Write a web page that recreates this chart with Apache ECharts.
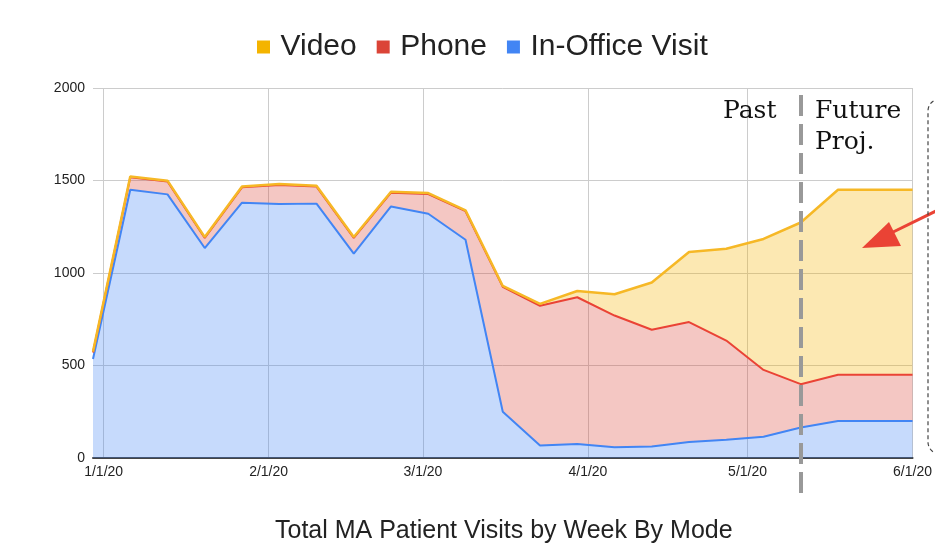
<!DOCTYPE html>
<html>
<head>
<meta charset="utf-8">
<title>Total MA Patient Visits by Week By Mode</title>
<script src="https://cdn.jsdelivr.net/npm/echarts@6.0.0/dist/echarts.min.js"></script>
<style>
    html, body { margin: 0; padding: 0; background: #fff; }
    #chart { width: 935px; height: 551px; }
</style>
</head>
<body>
<div id="chart"></div>
<script>
'use strict'

// weekly points (Monday of each week)
const weeks = ['2019-12-30', '2020-01-06', '2020-01-13', '2020-01-20', '2020-01-27',
    '2020-02-03', '2020-02-10', '2020-02-17', '2020-02-24', '2020-03-02', '2020-03-09',
    '2020-03-16', '2020-03-23', '2020-03-30', '2020-04-06', '2020-04-13', '2020-04-20',
    '2020-04-27', '2020-05-04', '2020-05-11', '2020-05-18', '2020-05-25', '2020-06-01']

const inOffice = [535, 1450, 1425, 1135, 1380, 1373, 1375, 1105, 1360, 1320, 1180,
    250, 68, 76, 58, 62, 87, 98, 115, 165, 200, 200, 200]
const phone = [35, 67, 70, 55, 83, 103, 92, 85, 74, 107, 154,
    675, 755, 793, 712, 631, 648, 537, 361, 234, 250, 250, 250]
const video = [5, 5, 4, 4, 4, 5, 5, 5, 5, 5, 5,
    5, 10, 34, 115, 256, 379, 496, 708, 874, 1000, 1000, 1000]

const monthTicks = ['2020-01-01', '2020-02-01', '2020-03-01', '2020-04-01', '2020-05-01', '2020-06-01']
const splitWeek = '2020-05-11'

const ts = (s) => {
    let p = s.split('-').map(Number)
    return Date.UTC(p[0], p[1] - 1, p[2])
}
const pairs = (vals) => weeks.map((w, i) => [ts(w), vals[i]])

const sans = '"Liberation Sans", Arial, sans-serif'
const squareIcon = 'path://M0,0H10V10H0Z'
const xMin = ts(weeks[0])
const xMax = ts(weeks[weeks.length - 1])

let chart = echarts.init(document.getElementById('chart'))

const option = {
    animation: false,
    useUTC: true,
    textStyle: { fontFamily: sans },
    color: ['#4285f4', '#db4437', '#f4b400'],
    title: {
        text: 'Total MA Patient Visits by Week By Mode',
        left: 270,
        top: 514,
        textStyle: {
            fontFamily: sans,
            fontSize: 25,
            fontWeight: 'normal',
            color: '#222'
        }
    },
    legend: {
        left: 252,
        top: 27,
        selectedMode: false,
        itemWidth: 24,
        itemHeight: 13,
        itemGap: 20,
        icon: squareIcon,
        data: ['Video', 'Phone', 'In-Office Visit'],
        textStyle: { fontSize: 30, color: '#222', fontFamily: sans }
    },
    grid: {
        left: 93,
        right: 20,
        top: 88,
        bottom: 93,
        containLabel: false
    },
    xAxis: [{
        // time axis that carries the series (kept hidden)
        type: 'time',
        min: xMin,
        max: xMax,
        show: false
    }, {
        // month labels and grid lines on the same span
        type: 'value',
        min: xMin,
        max: xMax,
        position: 'bottom',
        axisLine: { show: true, lineStyle: { color: '#444', width: 2 } },
        axisTick: { show: false, customValues: monthTicks.map(ts) },
        axisLabel: {
            customValues: monthTicks.map(ts),
            color: '#222',
            fontSize: 14,
            margin: 7,
            formatter: function (val) {
                let d = new Date(val)
                return (d.getUTCMonth() + 1) + '/' + d.getUTCDate() + '/20'
            }
        },
        splitLine: { show: true, lineStyle: { color: '#cccccc', width: 1 } }
    }],
    yAxis: {
        type: 'value',
        min: 0,
        max: 2000,
        interval: 500,
        axisLine: { show: false },
        axisTick: { show: false },
        axisLabel: {
            color: '#222',
            fontSize: 14,
            margin: 8,
            formatter: function (val) {
                return String(val)
            }
        },
        splitLine: { show: true, lineStyle: { color: '#cccccc', width: 1 } }
    },
    series: [{
        name: 'In-Office Visit',
        type: 'line',
        stack: 'total',
        xAxisIndex: 0,
        showSymbol: false,
        lineStyle: { width: 2, color: '#4285f4' },
        areaStyle: { color: '#4285f4', opacity: 0.3 },
        data: pairs(inOffice)
    }, {
        name: 'Phone',
        type: 'line',
        stack: 'total',
        xAxisIndex: 0,
        showSymbol: false,
        lineStyle: { width: 2, color: '#ea4335' },
        areaStyle: { color: '#db4437', opacity: 0.3 },
        data: pairs(phone)
    }, {
        name: 'Video',
        type: 'line',
        stack: 'total',
        xAxisIndex: 0,
        showSymbol: false,
        lineStyle: { width: 2.5, color: '#f6b826' },
        areaStyle: { color: '#f4b400', opacity: 0.3 },
        data: pairs(video)
    }]
}

chart.setOption(option)

// annotations: past / future divider, labels, arrow and the note box on the right
let divX = Math.round(chart.convertToPixel({ xAxisIndex: 0 }, ts(splitWeek)))
const serif = '25px "DejaVu Serif", serif'

chart.setOption({
    graphic: [{
        type: 'line',
        shape: { x1: divX, y1: 95, x2: divX, y2: 498 },
        style: { stroke: '#999', lineWidth: 4, lineDash: [21, 8] },
        z: 100
    }, {
        type: 'text',
        x: 723,
        y: 111,
        style: { text: 'Past', font: serif, fill: '#111', verticalAlign: 'middle' },
        z: 100
    }, {
        type: 'text',
        x: 815,
        y: 111,
        style: { text: 'Future', font: serif, fill: '#111', verticalAlign: 'middle' },
        z: 100
    }, {
        type: 'text',
        x: 815,
        y: 142,
        style: { text: 'Proj.', font: serif, fill: '#111', verticalAlign: 'middle' },
        z: 100
    }, {
        type: 'line',
        shape: { x1: 940, y1: 209, x2: 885, y2: 236 },
        style: { stroke: '#ea4335', lineWidth: 3 },
        z: 100
    }, {
        type: 'polygon',
        shape: { points: [[862, 248], [889, 222], [901, 246]] },
        style: { fill: '#ea4335' },
        z: 100
    }, {
        type: 'rect',
        shape: { x: 928, y: 99, width: 60, height: 355, r: 12 },
        style: { fill: null, stroke: '#444', lineWidth: 1.2, lineDash: [4, 3] },
        z: 100
    }]
})
</script>
</body>
</html>
